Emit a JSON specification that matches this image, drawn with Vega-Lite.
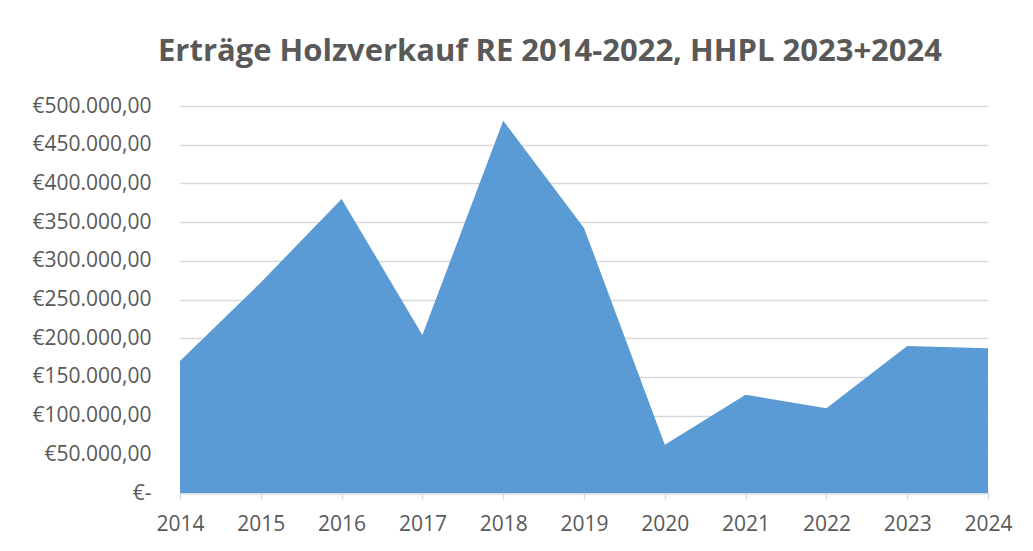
{
  "$schema": "https://vega.github.io/schema/vega-lite/v6.json",
  "width": 808,
  "height": 387,
  "autosize": {"type": "none"},
  "padding": {"left": 180, "top": 106, "right": 45, "bottom": 58},
  "background": "white",
  "title": {
    "text": "Erträge Holzverkauf RE 2014-2022, HHPL 2023+2024",
    "font": "Open Sans",
    "fontSize": 31,
    "fontWeight": "bold",
    "color": "#595959",
    "anchor": "middle",
    "dx": -34,
    "offset": 27
  },
  "data": {
    "values": [
      {"Jahr": "2014", "Ertrag": 170500},
      {"Jahr": "2015", "Ertrag": 272000},
      {"Jahr": "2016", "Ertrag": 380000},
      {"Jahr": "2017", "Ertrag": 204000},
      {"Jahr": "2018", "Ertrag": 481000},
      {"Jahr": "2019", "Ertrag": 342500},
      {"Jahr": "2020", "Ertrag": 62500},
      {"Jahr": "2021", "Ertrag": 127000},
      {"Jahr": "2022", "Ertrag": 109500},
      {"Jahr": "2023", "Ertrag": 190000},
      {"Jahr": "2024", "Ertrag": 187000}
    ]
  },
  "mark": {"type": "area", "color": "#5B9BD5", "opacity": 1},
  "encoding": {
    "x": {
      "field": "Jahr",
      "type": "ordinal",
      "scale": {"type": "point", "padding": 0},
      "axis": {
        "title": null,
        "labelAngle": 0,
        "labelFont": "Open Sans",
        "labelFontSize": 21,
        "labelColor": "#595959",
        "labelPadding": 14,
        "domainColor": "#D9D9D9",
        "domainWidth": 1.3,
        "tickColor": "#D9D9D9",
        "tickSize": 6,
        "tickWidth": 1.3,
        "grid": false
      }
    },
    "y": {
      "field": "Ertrag",
      "type": "quantitative",
      "scale": {"domain": [0, 500000], "nice": false},
      "axis": {
        "title": null,
        "values": [0, 50000, 100000, 150000, 200000, 250000, 300000, 350000, 400000, 450000, 500000],
        "labelExpr": "datum.value == 0 ? '€-' : '€' + format(datum.value / 1000, 'd') + '.000,00'",
        "labelFont": "Open Sans",
        "labelFontSize": 21,
        "labelColor": "#595959",
        "labelPadding": 29,
        "domain": false,
        "ticks": false,
        "grid": true,
        "gridColor": "#D9D9D9",
        "gridWidth": 1.3
      }
    }
  },
  "config": {
    "view": {"stroke": null}
  }
}
